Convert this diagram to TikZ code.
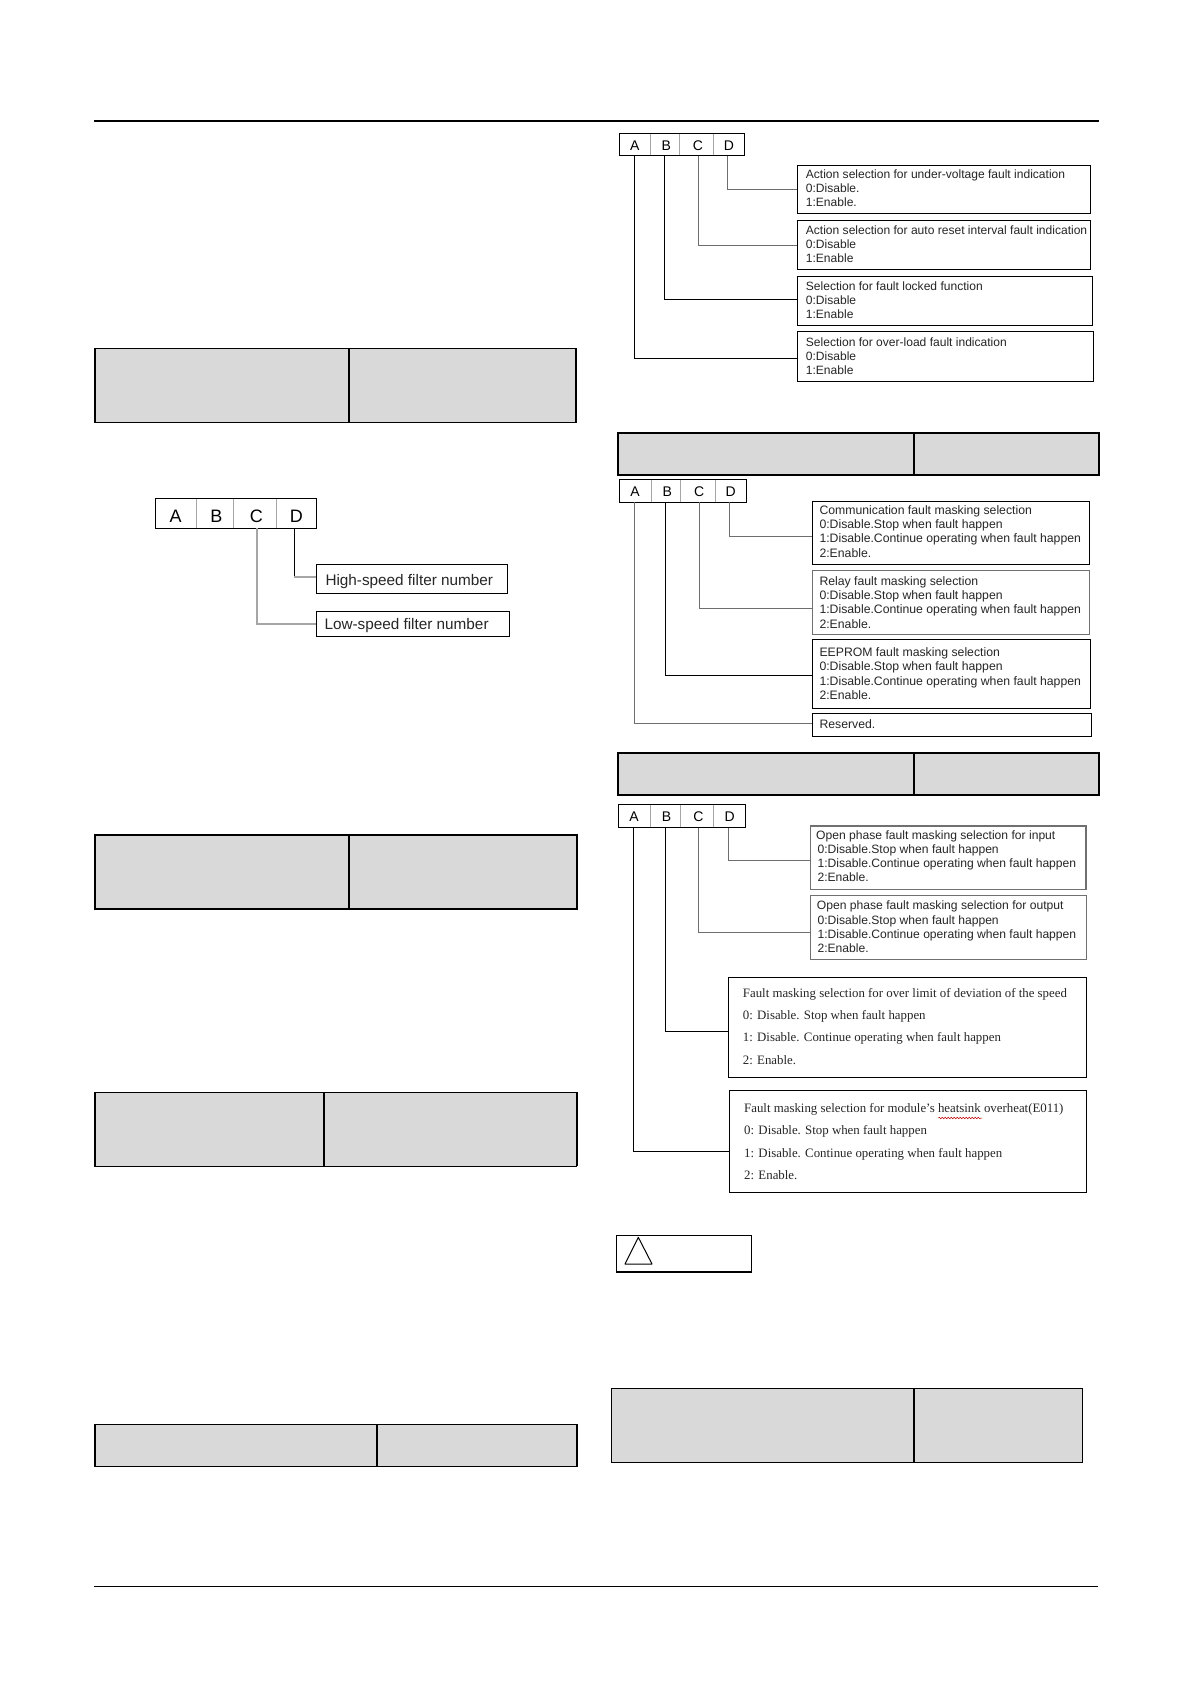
\documentclass[tikz,border=0pt]{standalone}
\usepackage{fontspec}
\setmainfont{Liberation Sans}
\newfontfamily\serifface{Liberation Serif}
\usetikzlibrary{decorations.pathmorphing}
\definecolor{tablegray}{HTML}{D9D9D9}
\definecolor{boxgray}{HTML}{707070}
\definecolor{wiregray}{HTML}{A6A6A6}
\definecolor{wiremid}{HTML}{6E6E6E}
\definecolor{inkdark}{HTML}{262626}
\tikzset{
  x=1pt,y=-1pt,
  boxed/.style={draw=black,line width=1pt,inner sep=0pt,outer sep=0pt,anchor=north west},
  softbox/.style={boxed,draw=boxgray,line width=1.3pt},
  cellbox/.style={boxed,draw=wiregray,line width=1pt},
  tablecell/.style={boxed,fill=tablegray,line width=2pt},
  thincell/.style={boxed,fill=tablegray,line width=1.1pt},
  heavy/.style={draw=black,line width=2pt},
  wire/.style={draw=black,line width=1pt},
  softwire/.style={draw=wiremid,line width=1pt},
  palewire/.style={draw=wiregray,line width=1.3pt},
  sanstxt/.style={anchor=base west,align=left,inner sep=0pt,text=inkdark,font=\fontsize{#1}{14.2}\selectfont},
  seriftxt/.style={anchor=base west,align=left,inner sep=0pt,text=inkdark,font=\serifface\fontsize{12.85}{22.2}\selectfont},
  letter/.style={anchor=center,inner sep=0pt,text=black,yshift=-1.2pt,font=\fontsize{14}{16}\selectfont},
  bigletter/.style={anchor=center,inner sep=0pt,text=black,yshift=-2.5pt,font=\fontsize{18}{20}\selectfont},
  bigtxt/.style={anchor=base west,inner sep=0pt,text=inkdark,font=\fontsize{15.3}{18}\selectfont},
}
% \bx[style]{name}{x1}{y1}{x2}{y2}
\newcommand\bx[6][boxed]{%
  \pgfmathsetmacro\bxw{#5-#3}\pgfmathsetmacro\bxh{#6-#4}%
  \node[#1,minimum width=\bxw pt,minimum height=\bxh pt] (#2) at (#3,#4) {};}
% \tablepair[cell style]{left name}{right name}{x1}{xm}{x2}{y1}{y2}: two cells, heavy divider and sides
\newcommand\tablepair[8][thincell]{%
  \bx[#1]{#2}{#4}{#7}{#5}{#8}\bx[#1]{#3}{#5}{#7}{#6}{#8}%
  \draw[heavy] (#2.north west) -- (#2.south west);%
  \draw[heavy] (#2.north east) -- (#2.south east);%
  \draw[heavy] (#3.north east) -- (#3.south east);}
% \abcd{prefix}{x1}{y1}{x2}{y2}{xAB}{xBC}{xCD}{letter style}
\newcommand\abcd[9]{%
  \bx[cellbox]{#1A}{#2}{#3}{#6}{#5}\bx[cellbox]{#1B}{#6}{#3}{#7}{#5}\bx[cellbox]{#1C}{#7}{#3}{#8}{#5}\bx[cellbox]{#1D}{#8}{#3}{#4}{#5}%
  \bx{#1}{#2}{#3}{#4}{#5}%
  \node[#9] (#1At) at (#1A.center) {A};\node[#9,xshift=1.4pt] (#1Bt) at (#1B.center) {B};%
  \node[#9,xshift=1.4pt] (#1Ct) at (#1C.center) {C};\node[#9] (#1Dt) at (#1D.center) {D};}
% \link[style]{cell}{box}{x}{y}
\newcommand\link[5][wire]{%
  \coordinate (#2#3e) at (#4,#5);%
  \draw[#1] (#2.south -| #2#3e) -- (#2#3e) -- (#2#3e -| #3.west);}
\begin{document}
\begin{tikzpicture}
\useasboundingbox (0,0) rectangle (1192,1685);
\fill[white] (0,0) rectangle (1192,1685);
% page rules
\coordinate (hl) at (94,121);\coordinate (hr) at (1099,121);
\draw[line width=1.3pt] (hl) -- (hr);
\coordinate (fl) at (94,1586.3);\coordinate (fr) at (1097.5,1586.3);
\draw[line width=1.1pt] (fl) -- (fr);
% left column tables
\tablepair{ta}{tb}{95}{349}{576.3}{348.7}{422.3}
\tablepair[tablecell]{tc}{td}{95}{349.3}{576.6}{835.3}{909.4}
\tablepair{te}{tf}{95}{323.5}{576.6}{1092.3}{1166.2}
\tablepair{tg}{th}{95}{377.3}{576.6}{1424.3}{1466.7}
% right column tables
\tablepair[tablecell]{ti}{tj}{617.7}{914}{1099.3}{433}{475.3}
\tablepair[tablecell]{tk}{tl}{617.7}{914}{1099.3}{752.7}{795.3}
\bx[thincell]{tm}{611.3}{1388.3}{914}{1462.3}\bx[thincell]{tn}{914}{1388.3}{1082.3}{1462.3}
\draw[heavy] (tm.north east) -- (tm.south east);
% left ABCD
\abcd{L}{155.3}{498.7}{316.7}{528.3}{196}{233.7}{276}{bigletter}
\bx{hi}{316.3}{564.7}{507.3}{593.3}
\bx{lo}{316.3}{611.7}{509.3}{636.3}
\node[bigtxt] (hit) at (325.3,585) {High-speed filter number};
\node[bigtxt] (lot) at (324.3,629.5) {Low-speed filter number};
\coordinate (LDe) at (294.3,577);
\draw[wire] (LD.south -| LDe) -- (LDe);
\draw[palewire] (LDe) -- (LDe -| hi.west);
\link[palewire]{LC}{lo}{257}{624}
% top right
\abcd{P}{619.3}{133.3}{744.3}{156}{650.3}{679.7}{713.3}{letter}
\bx{pd}{797.3}{165.3}{1090.3}{213.3}
\bx{pc}{797.3}{220.3}{1090.3}{269.3}
\bx{pb}{797.3}{276.7}{1092.3}{325.3}
\bx{pa}{797.3}{331.3}{1093.3}{381.3}
\link[softwire]{PD}{pd}{727.7}{189.3}
\link[softwire]{PC}{pc}{698.7}{245.3}
\link{PB}{pb}{664.3}{299.3}
\link{PA}{pa}{634.3}{358.3}
\node[sanstxt=12.05] (pdt) at (805.7,206.5) {Action selection for under-voltage fault indication\\0:Disable.\\1:Enable.};
\node[sanstxt=12.05] (pct) at (805.7,262.5) {Action selection for auto reset interval fault indication\\0:Disable\\1:Enable};
\node[sanstxt=12.05] (pbt) at (805.7,318.5) {Selection for fault locked function\\0:Disable\\1:Enable};
\node[sanstxt=12.05] (pat) at (805.7,374.5) {Selection for over-load fault indication\\0:Disable\\1:Enable};
% middle right
\abcd{Q}{619.3}{479.3}{746.3}{502.3}{651}{680.7}{715}{letter}
\bx{qd}{812.3}{501.3}{1089.3}{564.3}
\bx[softbox]{qc}{812.3}{570.3}{1089.3}{634.7}
\bx{qb}{812.3}{639.3}{1090.7}{708.7}
\bx{qa}{812.3}{713.3}{1091.7}{736.3}
\link[softwire]{QD}{qd}{729.3}{536.3}
\link[softwire]{QC}{qc}{699.3}{608.3}
\link{QB}{qb}{665.3}{675.3}
\link[softwire]{QA}{qa}{634.7}{723.3}
\node[sanstxt=12.25] (qdt) at (819.3,557) {Communication fault masking selection\\0:Disable.Stop when fault happen\\1:Disable.Continue operating when fault happen\\2:Enable.};
\node[sanstxt=12.25] (qct) at (819.3,628) {Relay fault masking selection\\0:Disable.Stop when fault happen\\1:Disable.Continue operating when fault happen\\2:Enable.};
\node[sanstxt=12.25] (qbt) at (819.3,699.3) {EEPROM fault masking selection\\0:Disable.Stop when fault happen\\1:Disable.Continue operating when fault happen\\2:Enable.};
\node[sanstxt=12.25] (qat) at (819.3,728) {Reserved.};
% lower right
\abcd{S}{618.3}{804}{745.7}{827.7}{650}{680.3}{713.7}{letter}
\bx[softbox]{sd}{810.7}{826}{1086}{889.3}
\bx[softbox]{sc}{810.7}{895.3}{1086.7}{959.3}
\bx{sb}{728.3}{977.7}{1086.3}{1077}
\bx{sa}{729.3}{1090.7}{1086.3}{1192.7}
\link[softwire]{SD}{sd}{728.7}{860.7}
\link[softwire]{SC}{sc}{698.7}{932.7}
\link{SB}{sb}{665.3}{1031.3}
\link{SA}{sa}{633.7}{1151.3}
\node[sanstxt=12.12] (sdt) at (817.3,881.7) {\hspace*{-1.3pt}Open phase fault masking selection for input\\0:Disable.Stop when fault happen\\1:Disable.Continue operating when fault happen\\2:Enable.};
\node[sanstxt=12.12] (sct) at (817.3,952.4) {\hspace*{-.6pt}Open phase fault masking selection for output\\0:Disable.Stop when fault happen\\1:Disable.Continue operating when fault happen\\2:Enable.};
\node[seriftxt] (sbt) at (742.7,1064) {Fault masking selection for over limit of deviation of the speed\\0: Disable. Stop when fault happen\\1: Disable. Continue operating when fault happen\\2: Enable.};
\node[seriftxt] (sat) at (744,1179.3) {Fault masking selection for module’s heatsink overheat(E011)\\0: Disable. Stop when fault happen\\1: Disable. Continue operating when fault happen\\2: Enable.};
\coordinate (wl) at (938.3,1118);\coordinate (wr) at (982,1118);
\draw[red!75!black,line width=.5pt,decorate,decoration={snake,amplitude=.7pt,segment length=3pt}] (wl) -- (wr);
% warning box
\bx[boxed,line width=1.3pt]{warn}{616.7}{1235.3}{751.7}{1272}
\coordinate (tria) at (638.3,1237.3);\coordinate (trib) at (625,1264);\coordinate (tric) at (652,1264);
\draw[line width=1pt,line join=round] (tria) -- (trib) -- (tric) -- cycle;
\end{tikzpicture}
\end{document}
